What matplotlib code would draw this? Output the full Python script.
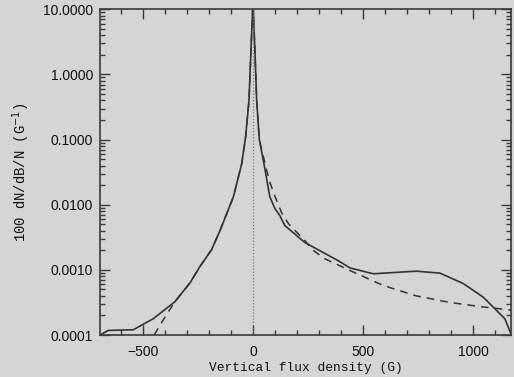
import matplotlib
matplotlib.use("Agg")
import matplotlib.pyplot as plt
import numpy as np
from matplotlib.ticker import FixedLocator, NullFormatter, MultipleLocator

# Observed distribution (solid): flux density (G) and log10 of 100 dN/dB/N
obs_B = [-695, -658, -544, -453, -355, -286, -241, -188, -150, -89, -51, -33, -18, -9, 0,
         9, 17, 29, 50, 77, 100, 123, 130, 145, 236, 388, 441, 547, 743, 850, 956, 1047, 1145, 1175]
obs_log = [-4.0, -3.93, -3.92, -3.75, -3.49, -3.20, -2.95, -2.69, -2.40, -1.88, -1.37, -0.95, -0.40, 0.37, 1.1,
           0.37, -0.40, -1.0, -1.37, -1.88, -2.06, -2.17, -2.22, -2.32, -2.58, -2.86, -2.97, -3.06, -3.02, -3.05,
           -3.21, -3.42, -3.75, -4.0]

# Model fit (dashed)
fit_B = [-449, -408, -355, -286, -241, -188, -150, -89, -51, -33, -18, -9, 0,
         9, 17, 29, 55, 74, 100, 130, 161, 236, 274, 327, 441, 592, 743, 895, 1047, 1183]
fit_log = [-4.0, -3.77, -3.49, -3.20, -2.95, -2.69, -2.40, -1.88, -1.37, -0.95, -0.40, 0.37, 1.1,
           0.37, -0.40, -1.0, -1.37, -1.63, -1.87, -2.12, -2.29, -2.55, -2.70, -2.83, -3.01, -3.24, -3.40,
           -3.50, -3.57, -3.62]

ytick_vals = [0.0001, 0.001, 0.01, 0.1, 1.0, 10.0]
ytick_labels = ["0.0001", "0.0010", "0.0100", "0.1000", "1.0000", "10.0000"]
xtick_vals = [-500, 0, 500, 1000]

bg = "#d5d5d5"
fig = plt.figure(figsize=(5.14, 3.77), dpi=100, facecolor=bg)
ax = fig.add_axes([0.1946, 0.1114, 0.7996, 0.8639])
ax.set_facecolor(bg)

axcol = "#3a3a3a"
ax.plot(obs_B, 10 ** np.array(obs_log), color="#333333", lw=1.2)
ax.plot(fit_B, 10 ** np.array(fit_log), color="#333333", lw=1.1, linestyle=(0, (5, 4)))
ax.axvline(0, color="#777777", lw=0.9, linestyle=(0, (1, 1.5)))

ax.set_yscale("log")
ax.set_xlim(-695, 1173)
ax.set_ylim(1e-4, 10)

ax.yaxis.set_major_locator(FixedLocator(ytick_vals))
ax.set_yticklabels(ytick_labels)
ax.yaxis.set_minor_locator(matplotlib.ticker.LogLocator(base=10, subs=np.arange(2, 10)))
ax.yaxis.set_minor_formatter(NullFormatter())
ax.xaxis.set_major_locator(FixedLocator(xtick_vals))
ax.xaxis.set_minor_locator(MultipleLocator(100))

for s in ax.spines.values():
    s.set_color(axcol)
    s.set_linewidth(1.2)

ax.tick_params(which="both", direction="in", top=True, right=True, color=axcol,
               labelsize=10, labelcolor="#111111", width=1.0)
ax.tick_params(which="major", length=7, pad=5)
ax.tick_params(axis="x", which="major", pad=7)
ax.tick_params(which="minor", length=3.5)
for lab in ax.get_xticklabels() + ax.get_yticklabels():
    lab.set_family("Liberation Sans")

ax.set_xlabel("Vertical flux density (G)", family="Liberation Mono", fontsize=9.3,
              color="#111111", labelpad=2)
ax.set_ylabel(r"100 dN/dB/N (G$^{-1}$)", family="Liberation Mono", fontsize=10,
              color="#111111", labelpad=8)

fig.savefig("out.png", dpi=100, facecolor=bg)
